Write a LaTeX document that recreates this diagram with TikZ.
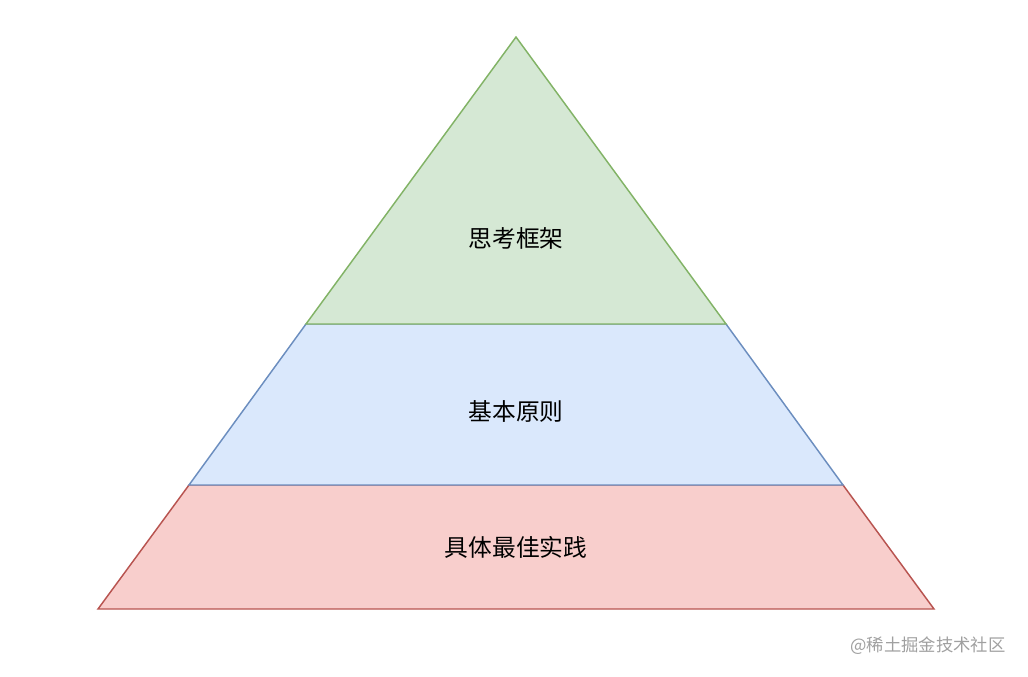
\documentclass[tikz,border=0pt]{standalone}
\usepackage{fontspec}
\setmainfont{Noto Sans CJK SC}
\usetikzlibrary{positioning,calc}
\definecolor{topFill}{HTML}{D5E8D4}
\definecolor{topLine}{HTML}{82B366}
\definecolor{midFill}{HTML}{DAE8FC}
\definecolor{midLine}{HTML}{6C8EBF}
\definecolor{lowFill}{HTML}{F8CECC}
\definecolor{lowLine}{HTML}{B85450}
\definecolor{markGrey}{HTML}{A0A0A0}

\tikzset{
  layer/.style={line width=1.1pt, line join=miter},
  layerText/.style={font=\fontsize{17.8}{21}\selectfont, text=black}
}

\begin{document}
\begin{tikzpicture}[x=0.75pt, y=-0.75pt]

\def\xA{516}     % apex x
\def\yA{37}      % apex y
\def\yOne{324}   % top band bottom
\def\yTwo{485}   % middle band bottom
\def\yThr{609}   % base

\useasboundingbox (0,0) rectangle (1028,676);

% --- BANDS ---
\filldraw[layer, fill=lowFill, draw=lowLine]
  (189,\yTwo) -- (843,\yTwo) -- (934,\yThr) -- (98,\yThr) -- cycle;
\filldraw[layer, fill=midFill, draw=midLine]
  (306,\yOne) -- (726,\yOne) -- (843,\yTwo) -- (189,\yTwo) -- cycle;
\filldraw[layer, fill=topFill, draw=topLine]
  (\xA,\yA) -- (726,\yOne) -- (306,\yOne) -- cycle;

% --- LABELS ---
\node[layerText] (frame) at (\xA,238) {思考框架};
\node[layerText] (rules) at (\xA,411) {基本原则};
\node[layerText] (practice) at (\xA,547) {具体最佳实践};

% --- WATERMARK ---
\node[font=\fontsize{13}{16}\selectfont, text=markGrey] (mark) at (928,646) {@稀土掘金技术社区};

\end{tikzpicture}
\end{document}
